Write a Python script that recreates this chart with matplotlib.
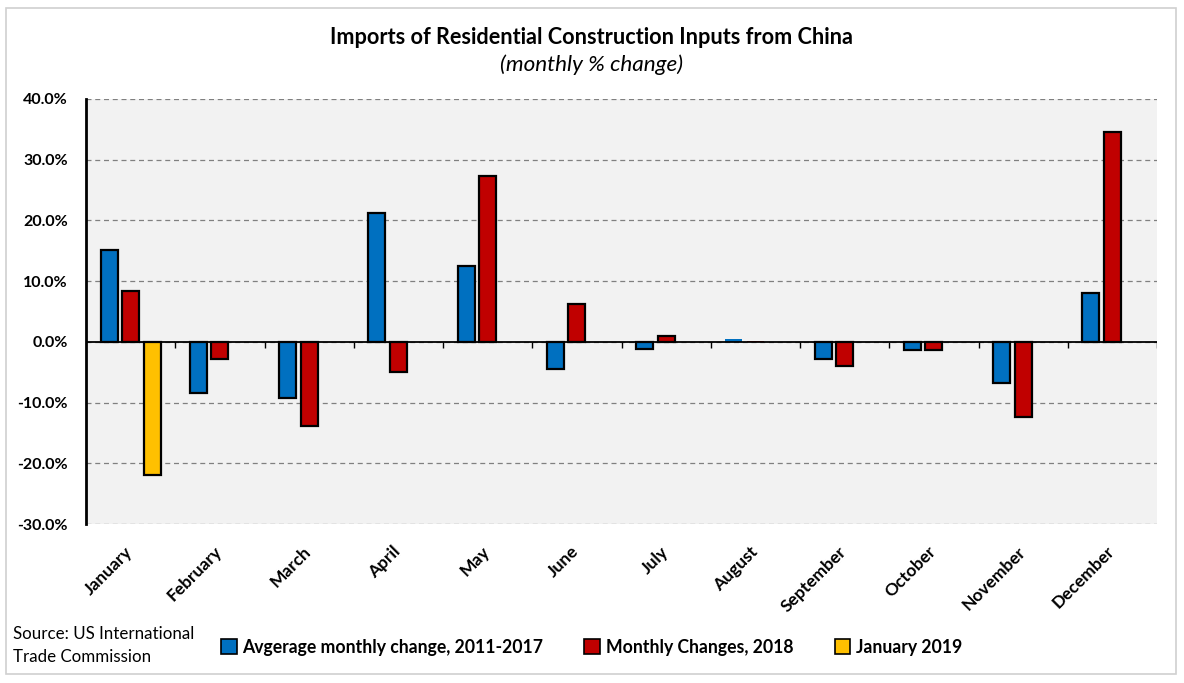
import numpy as np
import matplotlib
matplotlib.use('Agg')
import matplotlib.pyplot as plt
import matplotlib.transforms as mtransforms
from matplotlib.patches import Rectangle, Patch
from matplotlib.ticker import FuncFormatter, MultipleLocator

plt.rcParams['font.family'] = ['Lato', 'DejaVu Sans']

months = ['January', 'February', 'March', 'April', 'May', 'June', 'July',
          'August', 'September', 'October', 'November', 'December']
avg_2011_2017 = [15.1, -8.5, -9.2, 21.3, 12.5, -4.5, -1.2, 0.4, -2.9, -1.3, -6.8, 8.0]
changes_2018 = [8.3, -2.9, -13.8, -5.0, 27.3, 6.2, 1.0, 0.2, -4.0, -1.3, -12.3, 34.6]
jan_2019 = [-22.0]

series_labels = ['Avgerage monthly change, 2011-2017', 'Monthly Changes, 2018', 'January 2019']
colours = ['#0070C0', '#C00000', '#FFC000']

fig = plt.figure(figsize=(11.84, 6.83), dpi=100)
W, H = 1184.0, 683.0
ax = fig.add_axes([86 / W, 1 - 524 / H, (1157 - 86) / W, (524 - 99) / H])
ax.set_facecolor('#F2F2F2')

# chart frame
fig.patches.append(Rectangle((6 / W, 1 - 674 / H), 1170 / W, 666 / H, transform=fig.transFigure,
                             fill=False, edgecolor='#D0D0D0', linewidth=1.2, zorder=0))

x = np.arange(len(months))
width = 0.19
offset = 0.24


def edges(vals):
    # tiny bars show no outline in the original
    return ['black' if abs(v) > 0.6 else 'none' for v in vals]


ax.bar(x - offset, avg_2011_2017, width, color=colours[0], edgecolor=edges(avg_2011_2017),
       linewidth=1.6, zorder=3)
ax.bar(x, changes_2018, width, color=colours[1], edgecolor=edges(changes_2018),
       linewidth=1.6, zorder=3)
ax.bar(x[:len(jan_2019)] + offset, jan_2019, width, color=colours[2], edgecolor='black',
       linewidth=1.6, zorder=3)

ax.set_xlim(-0.5, len(months) - 0.5)
ax.set_ylim(-30, 40)
ax.yaxis.set_major_locator(MultipleLocator(10))
ax.yaxis.set_major_formatter(FuncFormatter(lambda v, p: '%.1f%%' % v))
ax.grid(axis='y', color='#808080', linestyle=(0, (4, 3)), linewidth=0.9, zorder=1)

# zero axis line with category boundary ticks
ax.axhline(0, color='black', linewidth=1.3, zorder=4)
ax.vlines(x[:-1] + 0.5, -1.0, 0, color='black', linewidth=1.0, zorder=4)
ax.vlines([len(months) - 0.5], -1.0, 0, color='black', linewidth=1.0, zorder=4)

for s in ['top', 'right', 'bottom']:
    ax.spines[s].set_visible(False)
ax.spines['left'].set_linewidth(2.0)
ax.tick_params(axis='y', length=0, pad=13, labelsize=11.5)
ax.tick_params(axis='x', length=0, pad=14, labelsize=12.5)
for lab in ax.get_yticklabels():
    lab.set_fontweight('bold')

ax.set_xticks(x)
ax.set_xticklabels(months, rotation=45, ha='right', va='top', rotation_mode='anchor',
                   fontweight='bold')
shift = mtransforms.ScaledTranslation(-6 / 100.0, 0, fig.dpi_scale_trans)
for lab in ax.get_xticklabels():
    lab.set_transform(lab.get_transform() + shift)

fig.text(0.5, 1 - 37 / H, 'Imports of Residential Construction Inputs from China',
         ha='center', va='center', fontsize=15.6, fontweight='bold')
fig.text(0.5, 1 - 65 / H, '(monthly % change)', ha='center', va='center', fontsize=16.2,
         style='italic')

fig.text(13 / W, 1 - 634 / H, 'Source: US International', ha='left', va='center', fontsize=12.2)
fig.text(13 / W, 1 - 657 / H, 'Trade Commission', ha='left', va='center', fontsize=12.2)

handles = [Patch(facecolor=c, edgecolor='black', linewidth=1.2) for c in colours]
leg = fig.legend(handles, series_labels, loc='center left', bbox_to_anchor=(205 / W, 1 - 647 / H),
                 ncol=3, frameon=False, handlelength=0.9, handleheight=0.9, handletextpad=0.3,
                 columnspacing=2.35, prop={'weight': 'bold', 'size': 12.7})

fig.savefig('out.png', dpi=100, facecolor='white')
